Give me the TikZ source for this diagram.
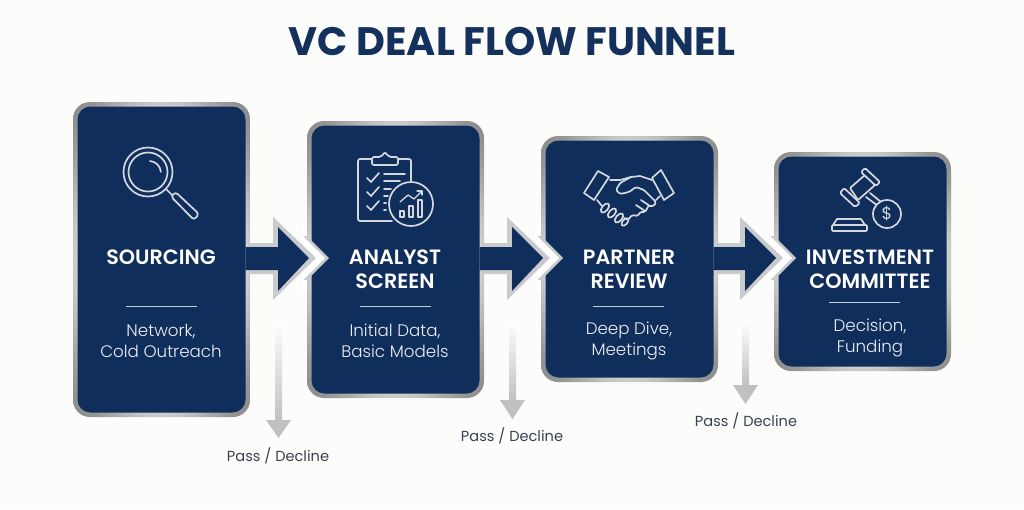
\documentclass[tikz,border=0pt]{standalone}
\usepackage{fontspec}
\setmainfont{Poppins}
\newfontfamily\lightf{Poppins Light}
\newfontfamily\semif{Poppins SemiBold}
\usetikzlibrary{calc}
\definecolor{navy}{HTML}{0F2E5C}
\definecolor{titleblue}{HTML}{14305C}
\definecolor{silver}{HTML}{C9CACC}
\definecolor{icon}{HTML}{D4D7DC}
\definecolor{paper}{HTML}{FCFCFB}
\definecolor{labelgray}{HTML}{3A4250}
\pgfdeclareradialshading{silverrim}{\pgfpoint{0bp}{0bp}}{%
  color(0bp)=(white!84!black);color(23.5bp)=(white!84!black);color(25.5bp)=(white!76!black);color(27.5bp)=(white!68!black);color(30.5bp)=(white!60!black);color(36bp)=(white!52!black);color(50bp)=(white!52!black)}
\tikzset{
  x=1pt,y=-1pt,
  cardrim/.style={shading=silverrim,rounded corners=17pt},
  cardface/.style={fill=navy,rounded corners=13pt},
  cardtitle/.style={text=white,font=\semif\fontsize{20.7}{24}\selectfont,align=center,inner sep=0pt},
  cardsub/.style={text=white!92!navy,font=\lightf\fontsize{16.7}{20.5}\selectfont,align=center,inner sep=0pt},
  rule/.style={draw=white!75!navy,line width=0.9pt},
  passlabel/.style={text=labelgray,font=\fontsize{14.6}{17}\selectfont,inner sep=0pt},
  ico/.style={draw=icon,line width=1.7pt,line cap=round,line join=round},
  icofill/.style={ico,fill=navy},
  passbar/.style={top color=white,bottom color=silver!95!black,draw=none},
  passhead/.style={fill=silver!95!black,draw=none},
}
\newcommand{\card}[5]{% name x1 y1 x2 y2
  \path[cardrim] (#2,#3) rectangle (#4,#5);
  \path[cardface] (#2+4.5,#3+4.5) rectangle (#4-4.5,#5-4.5);
  \coordinate (#1) at ({(#2+#4)/2},{(#3+#5)/2});
}
\newcommand{\flow}[4]{%
  \fill[silver] (#2,236) -- (#3,258) -- (#2,280) -- (#2-3,280) -- (#2-3,236) -- cycle;
  \fill[white] (#2-4,236) -- (#3-4,258) -- (#2-4,280) -- cycle;
  \fill[white] (#2-4,225) rectangle (#2,236);
  \fill[white] (#2-4,280) rectangle (#2,291);
  \fill[silver] (#4,243) -- (#1,243) -- (#1,217) -- (#1+43,258) -- (#1,300) -- (#1,274) -- (#4,274) -- cycle;
  \fill[navy] (#4-4.5,247) -- (#1+5,247) -- (#1+5,227) -- (#1+36,258) -- (#1+5,291) -- (#1+5,270) -- (#4-4.5,270) -- cycle;
}
\begin{document}
\begin{tikzpicture}
\useasboundingbox (0,0) rectangle (1024,509);
\fill[paper] (0,0) rectangle (1024,509);

\node[text=titleblue,font=\bfseries\fontsize{39.7}{44}\selectfont,inner sep=0pt] (title) at (512,42) {VC DEAL FLOW FUNNEL};

\card{c1}{73}{102}{250}{417}
\card{c2}{307}{121}{484}{398}
\card{c3}{541}{136}{718}{382}
\card{c4}{774}{152}{951}{371}

\flow{273}{307}{329}{250}
\flow{507}{541}{563}{484}
\flow{740}{774}{796}{718}

% card text
\node[cardtitle] (t1) at (161,257) {SOURCING};
\draw[rule] (126,306) -- (197,306);
\node[cardsub] (s1) at (161,341) {Network,\\Cold Outreach};

\node[cardtitle] (t2) at (395,269) {ANALYST\\SCREEN};
\draw[rule] (360,306) -- (431,306);
\node[cardsub] (s2) at (395,341) {Initial Data,\\Basic Models};

\node[cardtitle] (t3) at (629,269) {PARTNER\\REVIEW};
\draw[rule] (593,306) -- (664,306);
\node[cardsub] (s3) at (629,341) {Deep Dive,\\Meetings};

\node[cardtitle] (t4) at (870,269) {INVESTMENT\\COMMITTEE};
\draw[rule] (829,302) -- (900,302);
\node[cardsub] (s4) at (870,338) {Decision,\\Funding};

% pass arrows
\path[passbar] (275,320) rectangle (282,421);
\path[passhead] (266,420) -- (291,420) -- (278.5,438) -- cycle;
\path[passbar] (509,320) rectangle (516,401);
\path[passhead] (500,400) -- (525,400) -- (512.5,419) -- cycle;
\path[passbar] (742,320) rectangle (749,386);
\path[passhead] (733,385) -- (758,385) -- (745.5,404) -- cycle;
\node[passlabel] (p1) at (278,456) {Pass / Decline};
\node[passlabel] (p2) at (512,436) {Pass / Decline};
\node[passlabel] (p3) at (746,421) {Pass / Decline};

% magnifier
\draw[ico] (148,172) circle (24.5);
\draw[ico] (148,172) circle (19.5);
\draw[ico] (150,161) arc (-85:-5:12 and 12);
\draw[ico] (166,189) -- (173,196);
\draw[icofill,rounded corners=3pt] (171,196.5) -- (175.5,192) -- (199,214) -- (194,220) -- cycle;

% clipboard
\draw[ico,rounded corners=2pt] (372,159) -- (358,159) -- (358,221) -- (392,221);
\draw[ico,rounded corners=2pt] (399,159) -- (411,159) -- (411,184);
\draw[icofill,rounded corners=2pt] (372,165) -- (372,157) -- (381,157) -- (385,152) -- (389,157) -- (398,157) -- (398,165) -- cycle;
\foreach \yy in {178,192,206} \draw[ico] (367,\yy) -- (371,\yy+4) -- (379,\yy-5);
\draw[ico] (384,174) -- (405,174);
\draw[ico] (384,181) -- (400,181);
\draw[ico] (384,189) -- (391,189);
\draw[ico] (384,196) -- (388,196);
\draw[ico] (384,203) -- (386,203);
\draw[ico] (384,210) -- (386,210);
\draw[icofill] (411,204) circle (22);
\draw[ico,line width=1.3pt] (400,202) -- (408,195) -- (414,199) -- (422,191);
\draw[ico,line width=1.3pt] (417,191) -- (422,191) -- (422,195);
\draw[ico,line width=1.2pt] (400,211) rectangle (404,217);
\draw[ico,line width=1.2pt] (409,206) rectangle (413,217);
\draw[ico,line width=1.2pt] (418,200) rectangle (422,217);

% handshake
\draw[ico] (598,171) -- (609,177) -- (594,200) -- (584,193) -- cycle;
\draw[ico] (652,178) -- (661,170) -- (674,193) -- (664,200) -- cycle;
\draw[ico] (610,180) -- (620,180) -- (631,177) -- (640,176) -- (652,180);
\draw[ico,rounded corners=1.5pt] (631,177) -- (620,183) -- (616,190) -- (620,194) -- (629,192) -- (636,187) -- (644,190) -- (656,202) -- (654,206) -- (648,206);
\draw[ico] (660,196) -- (656,200);
\draw[ico] (597,200) -- (602,206);
\draw[ico] (641,200) -- (650,206);
\draw[ico] (636,205) -- (645,211);
\draw[ico,rounded corners=1.5pt] (648,207) -- (645,212) -- (640,212) -- (638,216) -- (632,215) -- (628,220) -- (624,218);
\draw[ico,rotate around={50:(605,208)}] (605,208) ellipse (5.5 and 3);
\draw[ico,rotate around={50:(612,213)}] (612,213) ellipse (5.5 and 3);
\draw[ico,rotate around={50:(619,218)}] (619,218) ellipse (5.5 and 3);
\draw[ico,rotate around={50:(625,222)}] (625,222) ellipse (4.5 and 2.5);

% gavel
\draw[ico] (866,197) -- (882,209);
\draw[ico] (870,193) -- (886,206);
\draw[ico,rounded corners=1pt] (850,188) -- (865,175) -- (875,185) -- (858,200) -- cycle;
\draw[icofill,rounded corners=1.5pt] (865,168) -- (880,182) -- (876,186) -- (861,172) -- cycle;
\draw[icofill,rounded corners=1.5pt] (844,188) -- (860,203) -- (855,207) -- (840,193) -- cycle;
\draw[ico] (833,225) -- (837,219) -- (861,219) -- (865,225);
\draw[ico,rounded corners=1pt] (832,225) rectangle (867,231);
\draw[icofill] (887,214) circle (14);
\node[text=icon,font=\fontsize{17}{17}\selectfont,inner sep=0pt] (dollar) at (887,214) {\$};
\end{tikzpicture}
\end{document}
